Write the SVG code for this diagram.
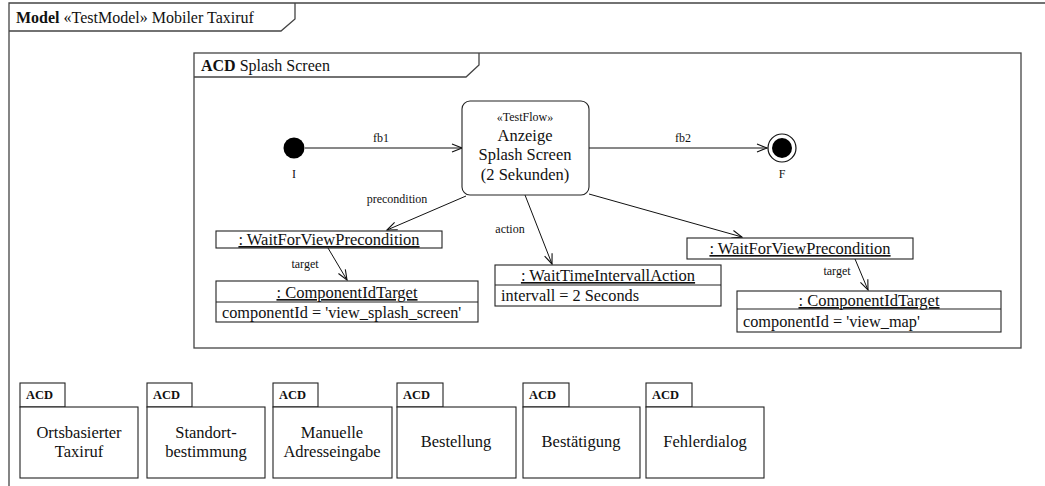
<svg xmlns="http://www.w3.org/2000/svg" width="1045" height="486" viewBox="0 0 1045 486">
  <defs>
    <marker id="open" viewBox="0 0 12 10" refX="11" refY="5" markerWidth="12" markerHeight="10" markerUnits="userSpaceOnUse" orient="auto">
      <path d="M1,1 L11,5 L1,9" fill="none" stroke="#111" stroke-width="1.1"/>
    </marker>
  </defs>
  <style>
    text { font-family: "Liberation Serif", "Times New Roman", serif; fill: #111; }
    .frame { fill: none; stroke: #444; stroke-width: 1.3; }
    .box { fill: #fff; stroke: #222; stroke-width: 1.1; }
    .edge { fill: none; stroke: #111; stroke-width: 1; marker-end: url(#open); }
    .lbl { font-size: 12px; text-anchor: middle; }
    .main { font-size: 16.5px; text-anchor: middle; }
    .title { font-size: 16.5px; text-anchor: middle; text-decoration: underline; }
    .attr { font-size: 16.3px; }
    .hdr { font-size: 16px; }
    .b { font-weight: bold; }
    .tab { font-size: 12.5px; font-weight: bold; }
  </style>

  <!-- outer model frame -->
  <g id="model-frame">
    <path class="frame" d="M9,486 V3 H1046"/>
    <path class="frame" d="M9,31 H281 L295,19 V3"/>
    <text class="hdr" x="16" y="23"><tspan class="b">Model</tspan> «TestModel» Mobiler Taxiruf</text>
  </g>

  <!-- activity diagram frame -->
  <g id="acd-splash">
    <rect class="frame" x="194" y="53" width="827" height="295"/>
    <path class="frame" d="M194,77 H466 L479,65 V53"/>
    <text class="hdr" x="201" y="71"><tspan class="b">ACD</tspan> Splash Screen</text>
  </g>

  <!-- connectors -->
  <g id="connectors">
    <line class="edge" x1="305" y1="148" x2="462" y2="148"/>
    <text class="lbl" x="381" y="142">fb1</text>
    <line class="edge" x1="589" y1="148" x2="767" y2="148"/>
    <text class="lbl" x="683" y="142">fb2</text>
    <line class="edge" x1="466" y1="196" x2="387" y2="230"/>
    <text class="lbl" x="397" y="203">precondition</text>
    <line class="edge" x1="525" y1="195" x2="552" y2="264"/>
    <text class="lbl" x="510" y="233">action</text>
    <line class="edge" x1="589" y1="194" x2="742" y2="237"/>
    <line class="edge" x1="328" y1="248" x2="347" y2="280"/>
    <text class="lbl" x="305" y="268">target</text>
    <line class="edge" x1="855" y1="259" x2="868" y2="290"/>
    <text class="lbl" x="837" y="275">target</text>
  </g>

  <!-- initial node -->
  <g id="initial">
    <circle cx="294" cy="148" r="10.5" fill="#000"/>
    <text class="lbl" x="294" y="178">I</text>
  </g>

  <!-- final node -->
  <g id="final">
    <circle cx="782" cy="148" r="14" fill="#fff" stroke="#111" stroke-width="1.2"/>
    <circle cx="782" cy="148" r="10" fill="#000"/>
    <text class="lbl" x="782" y="178">F</text>
  </g>

  <!-- test flow action -->
  <g id="splash-action">
    <rect class="box" x="462" y="101" width="127" height="94" rx="8" ry="8"/>
    <text class="lbl" x="525" y="121">«TestFlow»</text>
    <text class="main" x="525" y="141">Anzeige</text>
    <text class="main" x="525" y="160">Splash Screen</text>
    <text class="main" x="525" y="180">(2 Sekunden)</text>
  </g>

  <!-- precondition object (left) -->
  <g id="precondition-1">
    <rect class="box" x="216" y="231" width="226" height="17"/>
    <text class="title" x="329" y="245">: WaitForViewPrecondition</text>
  </g>

  <g id="target-1">
    <rect class="box" x="216" y="281" width="262" height="41"/>
    <line class="box" x1="216" y1="302" x2="478" y2="302"/>
    <text class="title" x="347" y="298">: ComponentIdTarget</text>
    <text class="attr" x="222" y="318">componentId = 'view_splash_screen'</text>
  </g>

  <!-- wait action object -->
  <g id="wait-action">
    <rect class="box" x="495" y="265" width="226" height="41"/>
    <line class="box" x1="495" y1="285" x2="721" y2="285"/>
    <text class="title" x="608" y="281">: WaitTimeIntervallAction</text>
    <text class="attr" x="501" y="301">intervall = 2 Seconds</text>
  </g>

  <!-- precondition object (right) -->
  <g id="precondition-2">
    <rect class="box" x="687" y="238" width="226" height="21"/>
    <text class="title" x="800" y="254">: WaitForViewPrecondition</text>
  </g>

  <g id="target-2">
    <rect class="box" x="737" y="291" width="264" height="41"/>
    <line class="box" x1="737" y1="309" x2="1001" y2="309"/>
    <text class="title" x="869" y="306">: ComponentIdTarget</text>
    <text class="attr" x="743" y="327">componentId = 'view_map'</text>
  </g>

  <!-- referenced activity diagrams -->
  <g id="acd-ortsbasiert">
    <rect class="box" x="20" y="383" width="45" height="24"/>
    <rect class="box" x="20" y="407" width="118" height="71"/>
    <text class="tab" x="26" y="399">ACD</text>
    <text class="main" x="79" y="438">Ortsbasierter</text>
    <text class="main" x="79" y="457">Taxiruf</text>
  </g>
  <g id="acd-standort">
    <rect class="box" x="147" y="383" width="45" height="24"/>
    <rect class="box" x="147" y="407" width="118" height="71"/>
    <text class="tab" x="153" y="399">ACD</text>
    <text class="main" x="206" y="438">Standort-</text>
    <text class="main" x="206" y="457">bestimmung</text>
  </g>
  <g id="acd-manuell">
    <rect class="box" x="273" y="383" width="45" height="24"/>
    <rect class="box" x="273" y="407" width="119" height="71"/>
    <text class="tab" x="279" y="399">ACD</text>
    <text class="main" x="332" y="438">Manuelle</text>
    <text class="main" x="332" y="457">Adresseingabe</text>
  </g>
  <g id="acd-bestellung">
    <rect class="box" x="397" y="383" width="46" height="24"/>
    <rect class="box" x="397" y="407" width="119" height="71"/>
    <text class="tab" x="403" y="399">ACD</text>
    <text class="main" x="456" y="447">Bestellung</text>
  </g>
  <g id="acd-bestaetigung">
    <rect class="box" x="523" y="383" width="46" height="24"/>
    <rect class="box" x="523" y="407" width="117" height="71"/>
    <text class="tab" x="529" y="399">ACD</text>
    <text class="main" x="581" y="447">Bestätigung</text>
  </g>
  <g id="acd-fehler">
    <rect class="box" x="646" y="383" width="46" height="24"/>
    <rect class="box" x="646" y="407" width="118" height="71"/>
    <text class="tab" x="652" y="399">ACD</text>
    <text class="main" x="705" y="447">Fehlerdialog</text>
  </g>
</svg>
